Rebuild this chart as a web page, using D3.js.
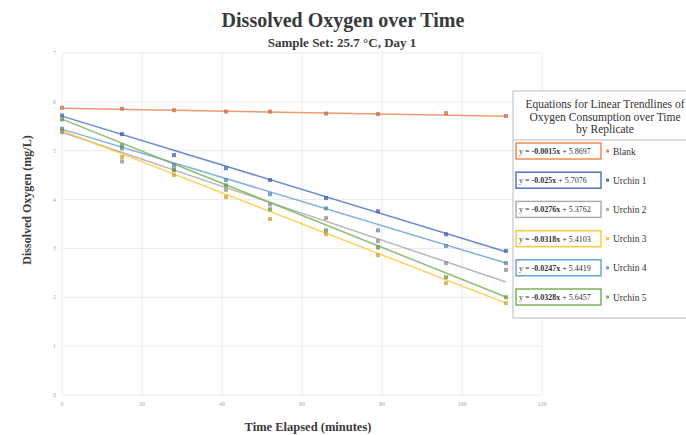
<!DOCTYPE html>
<html>
<head>
<meta charset="utf-8">
<script src="https://cdn.jsdelivr.net/npm/d3@7"></script>
<style>
  body { margin: 0; background: #fff; }
  text { font-family: "Liberation Serif", "Times New Roman", serif; }
</style>
</head>
<body>
<div id="chart"></div>
<script>
// Data
const times = [0, 15, 28, 41, 52, 66, 79, 96, 111];
const seriesNames = ["Blank", "Urchin 1", "Urchin 2", "Urchin 3", "Urchin 4", "Urchin 5"];
const blank   = [5.88, 5.86, 5.83, 5.80, 5.80, 5.76, 5.75, 5.77, 5.71];
const urchin1 = [5.72, 5.34, 4.91, 4.64, 4.40, 4.03, 3.76, 3.29, 2.95];
const urchin2 = [5.38, 4.78, 4.62, 4.20, 3.90, 3.62, 3.15, 2.70, 2.56];
const urchin3 = [5.41, 4.87, 4.50, 4.05, 3.60, 3.29, 2.86, 2.29, 1.88];
const urchin4 = [5.45, 5.05, 4.70, 4.40, 4.11, 3.82, 3.37, 3.05, 2.70];
const urchin5 = [5.64, 5.11, 4.60, 4.29, 3.80, 3.37, 3.02, 2.41, 2.00];
const slopes = [-0.0015, -0.025, -0.0276, -0.0318, -0.0247, -0.0328];
const intercepts = [5.8697, 5.7076, 5.3762, 5.4103, 5.4419, 5.6457];
const colors = ["#EE8A55", "#4F77C8", "#ADADAD", "#FFC93A", "#6BA5D9", "#7CB359"];
const xTicks = [0, 20, 40, 60, 80, 100, 120];
const yTicks = [0, 1, 2, 3, 4, 5, 6, 7];

const allValues = [blank, urchin1, urchin2, urchin3, urchin4, urchin5];

const width = 686, height = 435;
const svg = d3.select("#chart").append("svg")
    .attr("width", width).attr("height", height);

const x = d3.scaleLinear().domain([0, 120]).range([62, 542]);
const y = d3.scaleLinear().domain([0, 7]).range([395, 53]);

// gridlines
svg.append("g").selectAll("line").data(xTicks).enter().append("line")
    .attr("x1", d => x(d)).attr("x2", d => x(d))
    .attr("y1", y(7)).attr("y2", y(0))
    .attr("stroke", "#ebebeb").attr("stroke-width", 1);
svg.append("g").selectAll("line").data(yTicks).enter().append("line")
    .attr("x1", x(0)).attr("x2", x(120))
    .attr("y1", d => y(d)).attr("y2", d => y(d))
    .attr("stroke", "#ebebeb").attr("stroke-width", 1);

// tick labels
svg.append("g").selectAll("text").data(yTicks).enter().append("text")
    .attr("x", x(0) - 6).attr("y", d => y(d) + 2)
    .attr("text-anchor", "end").attr("font-size", 6).attr("fill", "#aaa")
    .text(d => d);
svg.append("g").selectAll("text").data(xTicks).enter().append("text")
    .attr("x", d => x(d)).attr("y", y(0) + 11)
    .attr("text-anchor", "middle").attr("font-size", 6).attr("fill", "#aaa")
    .text(d => d);

// trendlines
seriesNames.forEach((name, i) => {
    svg.append("line")
        .attr("x1", x(0)).attr("y1", y(intercepts[i]))
        .attr("x2", x(111)).attr("y2", y(intercepts[i] + slopes[i] * 111))
        .attr("stroke", colors[i]).attr("stroke-width", 1.5).attr("opacity", 0.85);
});

// points
seriesNames.forEach((name, i) => {
    svg.append("g").selectAll("rect")
        .data(times.map((t, j) => [t, allValues[i][j]]))
        .enter().append("rect")
        .attr("x", d => x(d[0]) - 2).attr("y", d => y(d[1]) - 2)
        .attr("width", 4).attr("height", 4)
        .attr("fill", d3.color(colors[i]).darker(0.6))
        .attr("opacity", 0.75);
});

// titles
svg.append("text").attr("x", 343).attr("y", 27).attr("text-anchor", "middle")
    .attr("font-size", 20).attr("font-weight", "bold").attr("fill", "#3a3a3a")
    .text("Dissolved Oxygen over Time");
svg.append("text").attr("x", 342).attr("y", 47).attr("text-anchor", "middle")
    .attr("font-size", 13).attr("font-weight", "bold").attr("fill", "#3a3a3a")
    .text("Sample Set: 25.7 °C, Day 1");
svg.append("text").attr("x", 308).attr("y", 431).attr("text-anchor", "middle")
    .attr("font-size", 12.5).attr("font-weight", "bold").attr("fill", "#3a3a3a")
    .text("Time Elapsed (minutes)");
svg.append("text").attr("transform", "translate(31,200) rotate(-90)")
    .attr("text-anchor", "middle")
    .attr("font-size", 12).attr("font-weight", "bold").attr("fill", "#3a3a3a")
    .text("Dissolved Oxygen (mg/L)");

// legend
const lg = svg.append("g");
lg.append("rect").attr("x", 513).attr("y", 91).attr("width", 200).attr("height", 227)
    .attr("fill", "#fff").attr("stroke", "#bbb").attr("stroke-width", 1);
["Equations for Linear Trendlines of", "Oxygen Consumption over Time", "by Replicate"]
    .forEach((t, k) => {
        lg.append("text").attr("x", 605).attr("y", 108 + k * 12.5).attr("text-anchor", "middle")
            .attr("font-size", 11.5).attr("fill", "#333").text(t);
    });
lg.append("line").attr("x1", 513).attr("x2", 686).attr("y1", 140).attr("y2", 140)
    .attr("stroke", "#bbb");

seriesNames.forEach((name, i) => {
    const cy = 151 + i * 29.2;
    lg.append("rect").attr("x", 516).attr("y", cy - 8).attr("width", 85).attr("height", 16)
        .attr("fill", "#fff").attr("stroke", colors[i]).attr("stroke-width", 1.5);
    const t = lg.append("text").attr("x", 519).attr("y", cy + 3)
        .attr("font-size", 8).attr("fill", "#333");
    t.append("tspan").text("y = ");
    t.append("tspan").attr("font-weight", "bold").text(slopes[i] + "x");
    t.append("tspan").text(" + " + intercepts[i].toFixed(4));
    lg.append("rect").attr("x", 606).attr("y", cy - 1.5).attr("width", 3).attr("height", 3)
        .attr("fill", colors[i]);
    lg.append("text").attr("x", 613).attr("y", cy + 3.5)
        .attr("font-size", 9.5).attr("fill", "#333").text(name);
});
</script>
</body>
</html>
